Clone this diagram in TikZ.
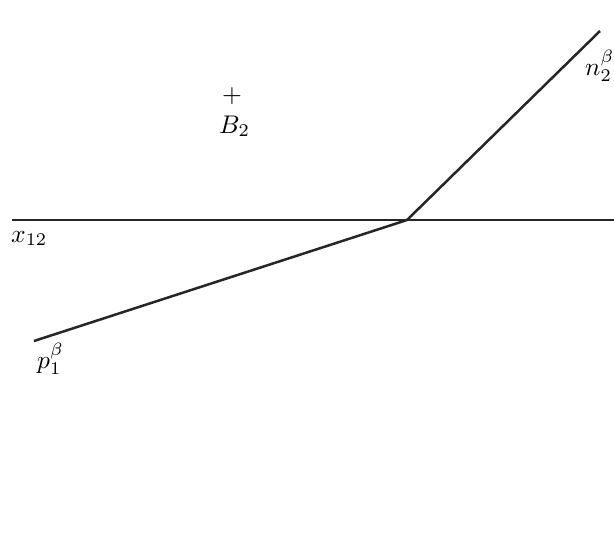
\documentclass[tikz,border=0pt]{standalone}
\usepackage{graphicx}
\begin{document}
\begin{tikzpicture}[x=1pt,y=-1pt,
  lbl/.style={inner sep=0pt, anchor=base west},
  thin line/.style={line width=1.1pt, black!85},
  thick line/.style={line width=2.5pt, black!85}]
\useasboundingbox[fill=white] (0,0) rectangle (614,538);
\coordinate (hl) at (12,220);
\coordinate (hr) at (614,220);
\coordinate (p) at (34,341);
\coordinate (o) at (407,220);
\coordinate (n) at (600,31);
\draw[thin line] (hl) -- (hr);
\draw[thick line, line join=round] (p) -- (o) -- (n);
\node[inner sep=0pt] (plus) at (232,96) {\scalebox{2.55}{$+$}};
\node[lbl] (B) at (219,133) {\scalebox{2.55}{$B_2$}};
\node[lbl] (x) at (11,242) {\scalebox{2.55}{$x_{12}$}};
\node[lbl] (pl) at (37,368) {\scalebox{2.55}{$p_1^\beta$}};
\node[lbl] (nl) at (585,75) {\scalebox{2.55}{$n_2^\beta$}};
\end{tikzpicture}
\end{document}
